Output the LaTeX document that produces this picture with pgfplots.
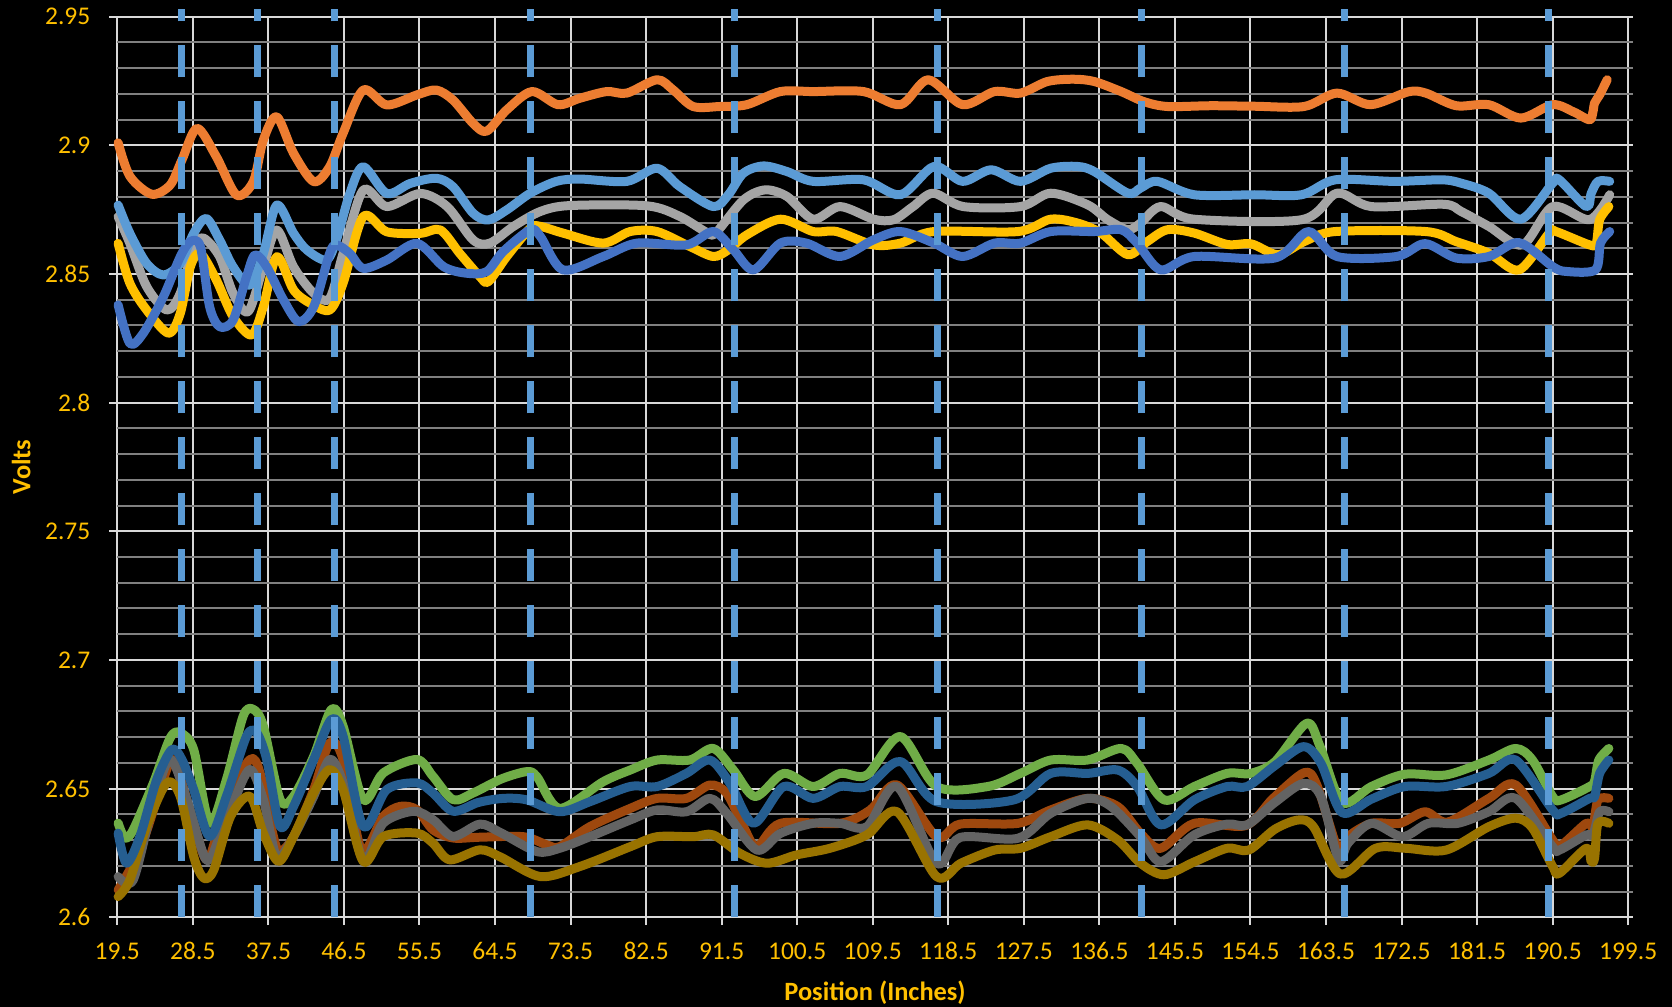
\documentclass[border=0pt]{standalone}
\usepackage{fontspec}
\setmainfont{Carlito}
\usepackage{pgfplots}
\pgfplotsset{compat=1.18}

\definecolor{sOrange}{HTML}{ED7D31}
\definecolor{sLightBlue}{HTML}{5B9BD5}
\definecolor{sGray}{HTML}{A5A5A5}
\definecolor{sGold}{HTML}{FFC000}
\definecolor{sBlue}{HTML}{4472C4}
\definecolor{sGreen}{HTML}{70AD47}
\definecolor{sDarkBlue}{HTML}{255E91}
\definecolor{sBrown}{HTML}{9E480E}
\definecolor{sDarkGray}{HTML}{636363}
\definecolor{sDarkGold}{HTML}{997300}
\definecolor{majgrid}{HTML}{D9D9D9}
\definecolor{mingrid}{HTML}{808080}
\definecolor{labgold}{HTML}{FFC000}

\begin{document}
\begin{tikzpicture}
% black page behind the whole chart
\fill[black] (-58.65pt,-44.85pt) rectangle (777.4pt,458.65pt);
\begin{axis}[
  at={(0,0)}, anchor=south west,
  scale only axis, width=757.8pt, height=450.3pt,
  xmin=19.5, xmax=200.05, ymin=2.6, ymax=2.95,
  clip=false,
  xtick={19.5,28.5,37.5,46.5,55.5,64.5,73.5,82.5,91.5,100.5,109.5,118.5,127.5,136.5,145.5,154.5,163.5,172.5,181.5,190.5,199.5},
  xticklabels={},
  ytick={2.6,2.65,2.7,2.75,2.8,2.85,2.9,2.95},
  yticklabels={2.6,2.65,2.7,2.75,2.8,2.85,2.9,2.95},
  minor y tick num=4,
  xmajorgrids, ymajorgrids, yminorgrids,
  major grid style={draw=majgrid, line width=1pt},
  minor grid style={draw=mingrid, line width=1pt},
  axis line style={draw=none},
  tick align=outside, xtick pos=left, ytick pos=left,
  major tick length=4pt, minor tick length=0pt,
  every tick/.style={draw=majgrid, line width=1pt},
  tick label style={font=\fontsize{12.75}{15}\selectfont, text=labgold},
  yticklabel style={anchor=east, inner sep=0pt, xshift=-9.3pt},
  xlabel={Position (Inches)},
  ylabel={Volts},
  label style={font=\fontsize{13.2}{16}\selectfont\bfseries, text=labgold},
  xlabel style={at={(axis description cs:0.5,0)}, anchor=base, inner sep=0pt, yshift=-41.6pt},
  ylabel style={at={([xshift=-48pt]axis description cs:0,0.5)}, anchor=center, inner sep=0pt},
  every axis plot/.append style={mark=none, line width=4.5pt, line cap=round, line join=round},
]

% ---------- upper group ----------
\addplot[sOrange, smooth, tension=0.5] coordinates {
(19.6,2.901) (21.0,2.888) (23.6,2.881) (25.8,2.8846) (27.2,2.8943) (29.0,2.9066) (31.3,2.8956) (33.7,2.8807) (35.7,2.8859) (36.9,2.9021) (38.5,2.9111) (40.5,2.8969) (42.9,2.8859) (44.8,2.8917) (46.4,2.9047) (48.8,2.9215) (51.6,2.9157) (55.2,2.9196) (57.5,2.9215) (59.5,2.9176) (61.9,2.9085) (63.5,2.9055) (65.9,2.9138) (68.9,2.9209) (72.0,2.9158) (74.6,2.9183) (77.8,2.9209) (80.2,2.9203) (83.8,2.9255) (85.7,2.9216) (88.1,2.9151) (91.3,2.9151) (94.5,2.9158) (98.5,2.9209) (102.4,2.9209) (108.4,2.9209) (112.8,2.9158) (116.1,2.9255) (120.2,2.9158) (124.0,2.9209) (127.1,2.9203) (130.3,2.9248) (133.4,2.9257) (135.9,2.9248) (139.1,2.9209) (141.8,2.917) (144.6,2.9151) (149.8,2.9154) (155.0,2.9152) (160.9,2.9151) (164.8,2.9203) (168.8,2.9158) (173.3,2.9208) (175.4,2.9203) (179.0,2.9154) (182.9,2.9158) (186.7,2.9106) (190.5,2.9158) (193.0,2.913) (194.9,2.9099) (195.3,2.913) (195.5,2.9165) (196.1,2.9196) (197.0,2.9255)
};
\addplot[sGray, smooth, tension=0.5] coordinates {
(19.6,2.8723) (21.0,2.8619) (23.0,2.8451) (25.4,2.836) (27.0,2.8425) (28.6,2.8606) (29.8,2.8639) (31.7,2.8567) (33.3,2.8425) (35.1,2.8354) (36.9,2.8528) (38.5,2.8671) (40.5,2.8528) (42.9,2.8425) (44.8,2.8405) (46.4,2.858) (48.8,2.8826) (51.6,2.8762) (55.6,2.8813) (58.8,2.8762) (61.9,2.8632) (63.9,2.862) (66.7,2.8685) (69.9,2.8743) (73.4,2.8766) (82.6,2.8765) (86.5,2.8724) (89.7,2.8662) (90.8,2.866) (94.1,2.8788) (96.7,2.8827) (99.3,2.8801) (102.4,2.8713) (105.6,2.8762) (109.6,2.8713) (112.0,2.8711) (114.3,2.8762) (116.7,2.8814) (120.3,2.8762) (127.1,2.8762) (130.7,2.8814) (135.1,2.8769) (137.5,2.8711) (139.9,2.8672) (141.4,2.8698) (143.8,2.8762) (147.8,2.8713) (160.6,2.8711) (164.8,2.8814) (168.9,2.8762) (177.5,2.8771) (179.6,2.8743) (182.9,2.8685) (186.9,2.8613) (190.5,2.8762) (194.9,2.8711) (197.3,2.8808)
};
\addplot[sGold, smooth, tension=0.5] coordinates {
(19.6,2.8619) (21.0,2.8464) (23.0,2.836) (25.6,2.827) (27.0,2.8347) (28.2,2.8528) (29.4,2.858) (31.3,2.8477) (33.3,2.8334) (35.5,2.8263) (36.9,2.8373) (38.5,2.8567) (40.5,2.8438) (42.5,2.8386) (44.8,2.836) (46.4,2.8464) (48.8,2.8723) (51.6,2.8664) (55.6,2.8658) (58.0,2.8671) (60.3,2.858) (62.7,2.849) (63.7,2.847) (65.9,2.8568) (68.7,2.8678) (69.9,2.8685) (72.6,2.8659) (77.4,2.862) (80.6,2.8665) (83.8,2.8665) (87.7,2.8607) (90.5,2.8568) (92.3,2.8594) (94.5,2.8652) (98.5,2.8713) (102.4,2.8665) (105.2,2.8665) (109.6,2.8613) (112.8,2.862) (116.8,2.8665) (126.8,2.8665) (130.7,2.8713) (133.9,2.8698) (136.7,2.8659) (139.9,2.8575) (142.2,2.8626) (144.6,2.8672) (147.8,2.8659) (151.7,2.8615) (154.6,2.8617) (157.8,2.8575) (160.9,2.8626) (164.6,2.8665) (175.4,2.8665) (179.0,2.8626) (182.9,2.8581) (186.5,2.8516) (190.1,2.8659) (190.9,2.8665) (194.9,2.8613) (195.7,2.862) (196.1,2.8711) (197.2,2.8762)
};
\addplot[sLightBlue, smooth, tension=0.5] coordinates {
(19.6,2.8768) (21.0,2.8658) (23.0,2.8541) (25.0,2.8496) (27.0,2.8541) (28.6,2.8658) (30.1,2.8716) (31.7,2.8632) (33.3,2.8528) (35.3,2.8457) (36.9,2.858) (38.5,2.8768) (40.5,2.8658) (42.1,2.8593) (44.4,2.8554) (45.6,2.8632) (47.2,2.8813) (48.8,2.8917) (51.6,2.8813) (54.4,2.8852) (57.5,2.8872) (59.5,2.8839) (61.9,2.8736) (63.7,2.871) (65.9,2.8749) (68.7,2.8814) (71.8,2.886) (74.6,2.8869) (80.2,2.886) (83.8,2.8911) (86.5,2.884) (90.5,2.8762) (92.3,2.8808) (94.1,2.8892) (96.5,2.892) (99.3,2.8898) (102.4,2.886) (108.4,2.8866) (112.8,2.8808) (116.8,2.8918) (120.2,2.886) (123.6,2.8905) (127.1,2.886) (130.7,2.8911) (133.9,2.8918) (135.9,2.8898) (139.9,2.8814) (141.4,2.8834) (143.4,2.886) (147.8,2.8808) (155.0,2.8808) (160.6,2.8808) (164.6,2.8866) (171.6,2.886) (177.3,2.8866) (179.6,2.8853) (182.9,2.8814) (186.7,2.8713) (190.5,2.8853) (191.3,2.8866) (194.5,2.8762) (195.1,2.8814) (195.9,2.886) (197.3,2.886)
};
\addplot[sBlue, smooth, tension=0.5] coordinates {
(19.6,2.838) (21.0,2.823) (22.6,2.827) (25.0,2.8412) (27.0,2.8567) (28.2,2.8626) (29.4,2.8606) (30.5,2.8373) (31.7,2.8295) (33.3,2.8321) (34.9,2.849) (35.9,2.8574) (37.3,2.8528) (39.3,2.8399) (41.1,2.8315) (42.9,2.8373) (44.8,2.858) (45.6,2.8613) (47.2,2.858) (48.8,2.8522) (51.6,2.8554) (55.2,2.8619) (58.4,2.8528) (61.1,2.8503) (63.5,2.8509) (65.5,2.8588) (68.7,2.8672) (69.9,2.8646) (72.6,2.8516) (77.4,2.8568) (81.4,2.862) (87.3,2.8613) (90.5,2.8665) (92.9,2.8594) (95.3,2.8516) (98.5,2.862) (101.6,2.862) (105.6,2.8568) (109.6,2.8633) (112.8,2.8665) (116.8,2.862) (120.2,2.8568) (124.0,2.862) (127.1,2.862) (130.7,2.8665) (135.9,2.8665) (139.1,2.8672) (141.0,2.862) (143.8,2.8516) (147.8,2.8568) (157.4,2.8562) (161.4,2.8665) (164.8,2.8568) (171.9,2.8568) (175.3,2.8618) (179.0,2.8562) (182.9,2.8568) (186.5,2.8622) (190.5,2.8529) (192.1,2.851) (195.6,2.8516) (196.2,2.862) (197.3,2.8665)
};

% ---------- lower group ----------
\addplot[sGreen, smooth, tension=0.5] coordinates {
(19.6,2.6366) (20.4,2.6308) (21.4,2.634) (23.8,2.6522) (25.8,2.6697) (27.0,2.6717) (28.6,2.6652) (30.5,2.6366) (32.5,2.6535) (34.5,2.6782) (35.7,2.6808) (36.9,2.6743) (38.9,2.6457) (40.5,2.647) (42.9,2.6626) (45.0,2.6808) (46.4,2.6743) (48.8,2.6457) (51.2,2.6561) (55.2,2.6613) (57.1,2.6548) (59.5,2.6457) (61.9,2.6483) (65.3,2.6538) (68.3,2.6566) (69.5,2.6546) (72.2,2.6423) (77.4,2.6527) (80.6,2.6572) (83.8,2.6611) (87.7,2.6611) (90.5,2.6656) (92.9,2.6572) (95.5,2.6469) (98.9,2.6559) (102.4,2.6508) (105.6,2.6559) (108.8,2.6553) (112.8,2.6702) (117.1,2.6508) (123.2,2.6508) (127.1,2.6559) (130.7,2.6611) (135.1,2.6611) (139.1,2.6656) (141.0,2.6598) (144.2,2.6456) (147.8,2.6508) (151.7,2.6559) (154.5,2.6559) (157.4,2.6604) (161.2,2.6754) (162.8,2.6663) (165.4,2.6446) (168.9,2.6508) (172.9,2.6556) (177.8,2.6553) (182.9,2.6611) (186.1,2.6656) (188.1,2.6611) (190.5,2.6469) (191.5,2.6456) (194.9,2.6508) (195.5,2.653) (196.0,2.6611) (197.2,2.6656)
};
\addplot[sBrown, smooth, tension=0.5] coordinates {
(19.6,2.6106) (22.2,2.6262) (24.6,2.6496) (26.0,2.6613) (27.2,2.6522) (28.6,2.6366) (30.3,2.6223) (32.5,2.6457) (35.3,2.6613) (36.5,2.6561) (38.1,2.6314) (38.9,2.6256) (40.5,2.6314) (42.9,2.6496) (44.8,2.6678) (46.4,2.6613) (48.6,2.6262) (51.2,2.6392) (53.2,2.6431) (55.2,2.6418) (57.1,2.634) (59.5,2.6308) (62.7,2.6311) (67.9,2.6313) (70.7,2.6281) (72.2,2.6274) (75.8,2.6352) (80.6,2.6423) (83.8,2.6462) (87.3,2.6462) (90.1,2.6514) (92.1,2.6482) (94.1,2.6352) (95.7,2.6274) (98.5,2.6365) (105.6,2.6365) (109.2,2.6417) (112.4,2.6514) (117.1,2.6313) (119.9,2.6362) (126.8,2.6365) (130.7,2.6417) (135.1,2.6462) (138.7,2.643) (141.4,2.6326) (143.8,2.6268) (147.8,2.6365) (153.9,2.6356) (157.2,2.6462) (160.9,2.6562) (162.4,2.6515) (165.0,2.6258) (166.1,2.6313) (168.9,2.6365) (172.3,2.6365) (175.3,2.641) (178.0,2.637) (182.9,2.6462) (186.1,2.6514) (190.5,2.63) (191.3,2.6274) (194.5,2.6365) (195.3,2.6352) (195.9,2.6456) (197.2,2.6462)
};
\addplot[sDarkGray, smooth, tension=0.5] coordinates {
(19.6,2.6158) (21.4,2.6145) (23.8,2.6444) (25.8,2.6613) (27.8,2.6457) (30.1,2.6223) (31.7,2.6314) (33.3,2.6444) (35.3,2.6574) (36.9,2.6457) (38.5,2.6236) (40.5,2.6314) (42.9,2.647) (44.8,2.6613) (46.4,2.6522) (48.8,2.6223) (51.2,2.6366) (54.8,2.6412) (57.1,2.6379) (59.5,2.6314) (62.7,2.6362) (65.1,2.633) (69.5,2.6255) (72.2,2.6268) (75.8,2.6313) (80.6,2.6378) (83.8,2.6417) (87.3,2.641) (90.1,2.6462) (92.1,2.6404) (95.7,2.6261) (98.5,2.6326) (102.4,2.6365) (105.6,2.6365) (108.8,2.6352) (112.4,2.6508) (117.1,2.621) (119.9,2.631) (126.8,2.6307) (130.7,2.6404) (135.1,2.6462) (137.9,2.643) (141.4,2.6313) (143.8,2.6216) (147.8,2.632) (151.7,2.6362) (154.1,2.6359) (157.4,2.6446) (160.8,2.652) (162.9,2.6469) (165.0,2.6223) (166.1,2.6287) (168.9,2.6365) (172.6,2.6313) (175.7,2.6365) (179.2,2.6365) (182.9,2.641) (186.1,2.6462) (190.5,2.6274) (191.3,2.6261) (194.5,2.632) (195.3,2.632) (196.1,2.641) (197.2,2.641)
};
\addplot[sDarkGold, smooth, tension=0.5] coordinates {
(19.6,2.608) (21.0,2.6145) (23.0,2.6353) (25.4,2.6522) (27.0,2.647) (28.6,2.6236) (29.8,2.6152) (31.0,2.6184) (33.0,2.6392) (35.3,2.647) (36.9,2.6327) (38.7,2.6217) (40.5,2.6314) (42.9,2.6483) (44.8,2.6574) (46.4,2.6496) (48.8,2.6217) (51.2,2.6314) (55.2,2.6327) (57.1,2.6288) (59.1,2.6223) (62.7,2.6262) (65.1,2.6235) (69.9,2.6158) (74.6,2.6197) (80.6,2.6274) (83.8,2.6313) (88.1,2.6313) (90.5,2.632) (93.7,2.6248) (96.9,2.621) (100.4,2.6242) (104.4,2.6268) (108.8,2.632) (112.4,2.641) (117.1,2.6158) (120.0,2.621) (124.0,2.6261) (127.1,2.6268) (130.7,2.6313) (135.1,2.6359) (138.7,2.63) (141.4,2.621) (144.2,2.6165) (147.8,2.6215) (151.7,2.6268) (154.3,2.6261) (157.4,2.6342) (160.2,2.6378) (162.0,2.6352) (165.2,2.6168) (169.4,2.6268) (173.0,2.6268) (177.8,2.6261) (182.9,2.6352) (186.1,2.6385) (188.1,2.6346) (190.5,2.6197) (191.3,2.6171) (194.5,2.6268) (195.1,2.6216) (195.5,2.623) (195.9,2.6365) (197.2,2.6365)
};
\addplot[sDarkBlue, smooth, tension=0.5] coordinates {
(19.6,2.6327) (20.6,2.621) (22.2,2.6314) (24.2,2.6535) (26.0,2.6652) (27.2,2.6613) (28.6,2.6496) (30.5,2.6314) (32.5,2.647) (34.9,2.6704) (36.1,2.6717) (37.3,2.6613) (38.9,2.6353) (40.5,2.6431) (42.9,2.6613) (45.0,2.6769) (46.4,2.6704) (48.8,2.6353) (51.6,2.6496) (55.2,2.6522) (57.1,2.6483) (59.5,2.6412) (62.5,2.6446) (65.5,2.6462) (68.3,2.6456) (72.2,2.641) (75.8,2.6449) (80.6,2.6508) (83.8,2.6508) (87.3,2.6559) (90.1,2.6611) (92.5,2.652) (95.3,2.6365) (98.9,2.6508) (102.4,2.6462) (105.6,2.6508) (108.8,2.6508) (112.8,2.6605) (117.1,2.6449) (126.3,2.6456) (130.7,2.6559) (135.1,2.6559) (138.7,2.6572) (141.0,2.6508) (143.8,2.6359) (147.8,2.6456) (151.7,2.6508) (154.1,2.6508) (157.4,2.6589) (160.8,2.6663) (162.9,2.6598) (165.4,2.6407) (168.9,2.6459) (172.9,2.6508) (177.8,2.6508) (182.9,2.6559) (186.1,2.6611) (190.5,2.6417) (191.5,2.6404) (194.9,2.6462) (195.5,2.6469) (196.1,2.6559) (197.2,2.6611)
};

% ---------- dashed markers ----------
\pgfplotsinvokeforeach{27.15,36.2,45.4,68.75,93,117.25,141.5,165.75,190}{
  \addplot[sLightBlue, line width=3.5pt, line cap=butt, dash pattern=on 16pt off 12pt, forget plot] coordinates {(#1,2.6) (#1,2.953)};
}

% ---------- x tick labels ----------
\pgfplotsinvokeforeach{19.5,28.5,37.5,46.5,55.5,64.5,73.5,82.5,91.5,100.5,109.5,118.5,127.5,136.5,145.5,154.5,163.5,172.5,181.5,190.5,199.5}{
  \node[anchor=base, inner sep=0pt, text=labgold, font=\fontsize{12.75}{15}\selectfont, yshift=-21.35pt] at (axis cs:#1,2.6) {#1};
}
\end{axis}
\pgfresetboundingbox
\useasboundingbox (-58.65pt,-44.85pt) rectangle (777.4pt,458.65pt);
\end{tikzpicture}
\end{document}
